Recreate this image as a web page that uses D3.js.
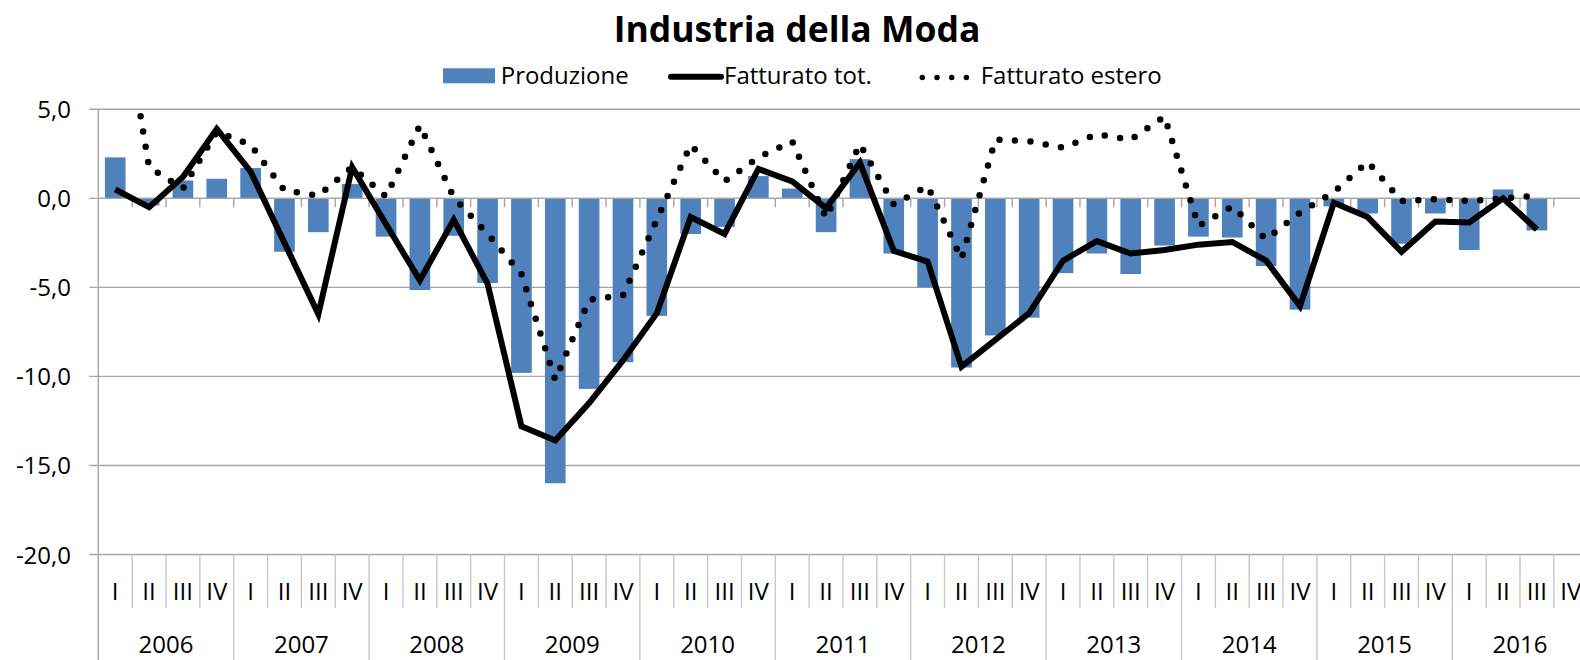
<!DOCTYPE html>
<html>
<head>
<meta charset="utf-8">
<script src="https://cdn.jsdelivr.net/npm/d3@7"></script>
<style>
  body { margin: 0; background: #fff; }
  svg { display: block; }
  text { font-family: "Open Sans", Lato, sans-serif; fill: #000; }
</style>
</head>
<body>
<script>
(function () {
    "use strict";

// DATA
var years = ["2006", "2007", "2008", "2009", "2010", "2011", "2012", "2013", "2014", "2015", "2016"],
    quarters = ["I", "II", "III", "IV"];

var produzione = [2.3, -0.4, 1.0, 1.1, 1.7, -3.0, -1.9, 0.8, -2.15, -5.15, -2.1, -4.75,
    -9.8, -16.0, -10.7, -9.2, -6.6, -2.0, -1.6, 1.25, 0.55, -1.9, 2.2, -3.1,
    -5.0, -9.5, -7.7, -6.7, -4.2, -3.1, -4.25, -2.65, -2.15, -2.2, -3.8, -6.25,
    -0.45, -0.85, -2.55, -0.85, -2.9, 0.5, -1.8, null];

var fatturatoTot = [0.5, -0.5, 1.2, 3.9, 1.5, -2.5, -6.5, 1.75, -1.45, -4.6, -1.2, -4.8,
    -12.8, -13.6, -11.5, -9.1, -6.45, -1.05, -2.0, 1.65, 0.95, -0.55, 2.0, -2.95,
    -3.55, -9.45, -7.95, -6.45, -3.5, -2.4, -3.1, -2.9, -2.6, -2.45, -3.5, -6.05,
    -0.25, -1.05, -3.0, -1.3, -1.35, 0.0, -1.75, null];

var fatturatoEstero = [13.2, 1.75, 0.55, 3.75, 3.0, 0.45, 0.15, 1.75, 0.1, 4.1, 0.05, -2.0,
    -4.25, -10.2, -5.7, -5.45, -1.2, 3.0, 0.95, 2.3, 3.2, -1.1, 3.05, -0.35,
    0.7, -3.4, 3.3, 3.2, 2.85, 3.6, 3.3, 4.6, -1.55, -0.45, -2.3, -0.8,
    0.35, 2.05, -0.15, -0.05, -0.15, 0.0, 0.15, null];

var yTicks = [5, 0, -5, -10, -15, -20];

var seriesNames = ["Produzione", "Fatturato tot.", "Fatturato estero"];

var keys = [];
years.forEach(function (y) {
    quarters.forEach(function (q) { keys.push(y + "-" + q); });
});

// LAYOUT
var width = 1580,
    height = 660,
    plotLeft = 98.3,
    step = 33.85,
    plotRight = plotLeft + step * keys.length,
    plotTop = 109.3,
    plotBottom = 554.5;

var barColor = "#4F81BD",
    gridColor = "#a6a6a6",
    sepColor = "#c8c8c8",
    labelSize = "24px";

// italian style: comma decimal, plain hyphen minus
var itLocale = d3.formatLocale({decimal: ",", thousands: ".", grouping: [3], currency: ["", " €"], minus: "-"});
var fmt = itLocale.format(".1f");

var x = d3.scaleBand()
    .domain(keys)
    .range([plotLeft, plotRight])
    .paddingInner(0.39)
    .paddingOuter(0.195);

var y = d3.scaleLinear()
    .domain([-20, 5])
    .range([plotBottom, plotTop]);

var cx = function (i) { return x(keys[i]) + x.bandwidth() / 2; };

var svg = d3.select("body").append("svg")
    .attr("width", width)
    .attr("height", height);

svg.append("defs").append("clipPath")
    .attr("id", "plotClip")
    .append("rect")
    .attr("x", plotLeft)
    .attr("y", plotTop - 2)
    .attr("width", plotRight - plotLeft)
    .attr("height", plotBottom - plotTop + 2);

// title
svg.append("text")
    .attr("x", 797)
    .attr("y", 42)
    .attr("text-anchor", "middle")
    .style("font-weight", "bold")
    .style("font-size", "35.5px")
    .text("Industria della Moda");

// gridlines
svg.append("g").selectAll("line")
    .data(yTicks)
    .join("line")
    .attr("x1", plotLeft - 9)
    .attr("x2", plotRight)
    .attr("y1", function (d) { return y(d); })
    .attr("y2", function (d) { return y(d); })
    .attr("stroke", gridColor)
    .attr("stroke-width", 1.4);

svg.append("g").selectAll("text")
    .data(yTicks)
    .join("text")
    .attr("x", 71)
    .attr("y", function (d) { return y(d) + 9; })
    .attr("text-anchor", "end")
    .style("font-size", labelSize)
    .text(fmt);

// y axis line, continues down through the label table
svg.append("line")
    .attr("x1", plotLeft).attr("x2", plotLeft)
    .attr("y1", plotTop).attr("y2", height)
    .attr("stroke", gridColor)
    .attr("stroke-width", 1.4);

// bars
svg.append("g").selectAll("rect")
    .data(produzione.map(function (v, i) { return {k: keys[i], v: v}; }).filter(function (d) { return d.v != null; }))
    .join("rect")
    .attr("x", function (d) { return x(d.k); })
    .attr("width", x.bandwidth())
    .attr("y", function (d) { return y(Math.max(0, d.v)); })
    .attr("height", function (d) { return Math.abs(y(d.v) - y(0)); })
    .attr("fill", barColor);

// horizontal axis at zero with outside ticks
svg.append("line")
    .attr("x1", plotLeft).attr("x2", plotRight)
    .attr("y1", y(0)).attr("y2", y(0))
    .attr("stroke", gridColor)
    .attr("stroke-width", 1.4);

var bounds = d3.range(1, keys.length + 1).map(function (i) { return plotLeft + i * step; });

svg.append("g").selectAll("line")
    .data(bounds)
    .join("line")
    .attr("x1", function (d) { return d; })
    .attr("x2", function (d) { return d; })
    .attr("y1", y(0))
    .attr("y2", y(0) + 9)
    .attr("stroke", gridColor)
    .attr("stroke-width", 1.4);

// lines
var lineGen = d3.line()
    .defined(function (d) { return d != null; })
    .x(function (d, i) { return cx(i); })
    .y(function (d) { return y(d); });

var lines = svg.append("g").attr("clip-path", "url(#plotClip)");

lines.append("path")
    .attr("d", lineGen(fatturatoEstero))
    .attr("fill", "none")
    .attr("stroke", "#000")
    .attr("stroke-width", 6.5)
    .attr("stroke-linecap", "round")
    .attr("stroke-dasharray", "0 15.5");

lines.append("path")
    .attr("d", lineGen(fatturatoTot))
    .attr("fill", "none")
    .attr("stroke", "#000")
    .attr("stroke-width", 6)
    .attr("stroke-linejoin", "miter");

// category label table
svg.append("g").selectAll("line")
    .data(bounds)
    .join("line")
    .attr("x1", function (d) { return d; })
    .attr("x2", function (d) { return d; })
    .attr("y1", plotBottom)
    .attr("y2", function (d, i) { return (i + 1) % 4 === 0 ? height : 608; })
    .attr("stroke", sepColor)
    .attr("stroke-width", 1.4);

svg.append("g").selectAll("text")
    .data(keys)
    .join("text")
    .attr("x", function (d, i) { return cx(i); })
    .attr("y", 600)
    .attr("text-anchor", "middle")
    .style("font-size", labelSize)
    .text(function (d) { return d.split("-")[1]; });

svg.append("g").selectAll("text")
    .data(years)
    .join("text")
    .attr("x", function (d, i) { return plotLeft + (i * 4 + 2) * step; })
    .attr("y", 653)
    .attr("text-anchor", "middle")
    .style("font-size", labelSize)
    .text(function (d) { return d; });

// legend
var legend = svg.append("g");

legend.append("rect")
    .attr("x", 443).attr("y", 68.3)
    .attr("width", 52).attr("height", 15)
    .attr("fill", barColor);

legend.append("text")
    .attr("x", 500.7).attr("y", 84)
    .style("font-size", labelSize)
    .text(seriesNames[0]);

legend.append("line")
    .attr("x1", 671).attr("x2", 721)
    .attr("y1", 76.7).attr("y2", 76.7)
    .attr("stroke", "#000")
    .attr("stroke-width", 6)
    .attr("stroke-linecap", "round");

legend.append("text")
    .attr("x", 724).attr("y", 84)
    .style("font-size", labelSize)
    .text(seriesNames[1]);

legend.append("line")
    .attr("x1", 922.3).attr("x2", 967)
    .attr("y1", 77.5).attr("y2", 77.5)
    .attr("stroke", "#000")
    .attr("stroke-width", 5.5)
    .attr("stroke-linecap", "round")
    .attr("stroke-dasharray", "0 14.7");

legend.append("text")
    .attr("x", 980.7).attr("y", 84)
    .style("font-size", labelSize)
    .text(seriesNames[2]);

})();
</script>
</body>
</html>
